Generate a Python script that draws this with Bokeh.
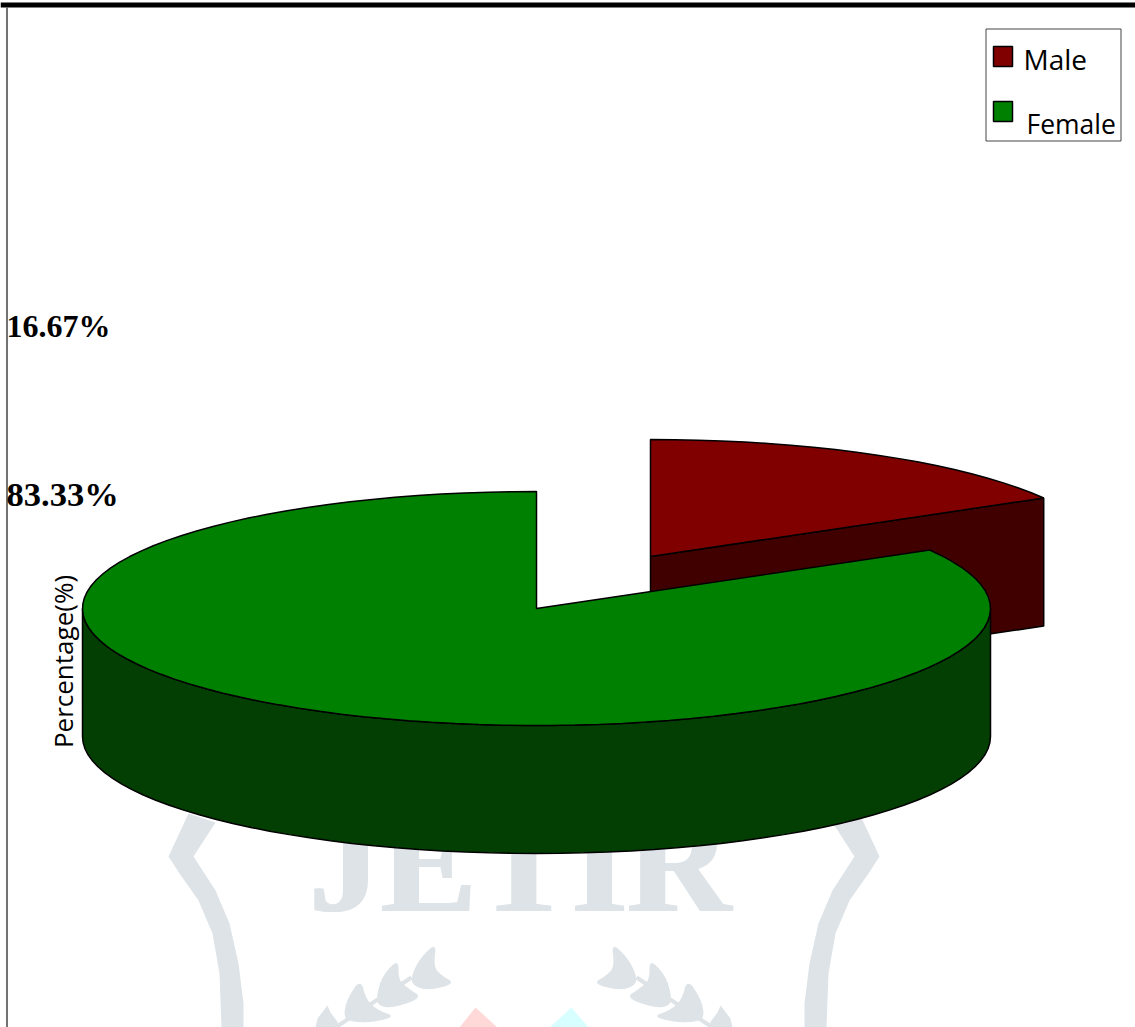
import numpy as np
from bokeh.core.properties import value
from bokeh.embed import file_html
from bokeh.models import Range1d
from bokeh.plotting import figure
from bokeh.resources import INLINE

# Gender split shown by the pie
categories = ["Male", "Female"]
percentages = [16.67, 83.33]
percent_labels = ["16.67%", "83.33%"]
axis_title = "Percentage(%)"
watermark = "JETIR"

TOP_COLORS = {"Male": "#800000", "Female": "#008000"}
SIDE_COLORS = {"Male": "#400000", "Female": "#033f03"}

WIDTH, HEIGHT = 1135, 1027
CX, CY = 536, 608          # centre of the pie's top face
RX, RY = 454, 117          # radii of the tilted disc
DEPTH = 128                # thickness of the disc
EXPLODE = (114, -52)       # offset of the pulled-out Male slice

p = figure(width=WIDTH, height=HEIGHT, output_backend="svg", toolbar_location=None,
           x_range=Range1d(0, WIDTH), y_range=Range1d(HEIGHT, 0),
           min_border=0, background_fill_color="white", border_fill_color="white")
p.axis.visible = False
p.grid.visible = False
p.outline_line_color = None


def arc(start, end, cx=CX, cy=CY, step=3.0):
    """Points along the disc's rim between two angles, in degrees."""
    n = max(2, int(abs(end - start) / step) + 1)
    t = np.radians(np.linspace(start, end, n))
    return cx + RX * np.cos(t), cy - RY * np.sin(t)


def rounded(xs, ys, passes=2):
    """Corner-cutting pass that rounds a closed outline."""
    pts = np.column_stack([xs, ys]).astype(float)
    for _ in range(passes):
        nxt = np.roll(pts, -1, axis=0)
        pts = np.stack([0.75 * pts + 0.25 * nxt, 0.25 * pts + 0.75 * nxt], axis=1).reshape(-1, 2)
    return pts[:, 0], pts[:, 1]


# Background emblem, drawn first so the pie sits over it
EMBLEM = "#dde3e7"
CENTRE = 523.5
band_x = [188, 168, 179, 198, 212, 219, 221, 243, 243, 238, 229, 215, 193, 215]
band_y = [813, 856, 873, 900, 933, 973, 1027, 1027, 1003, 963, 923, 890, 856, 822]
leaves = [
    ([436, 420, 411, 412, 428, 455, 441, 433], [942, 957, 975, 985, 990, 983, 975, 966]),
    ([398, 382, 376, 378, 395, 422, 408, 398], [958, 975, 995, 1006, 1007, 997, 988, 980]),
    ([360, 347, 343, 348, 372, 395, 378, 366], [978, 998, 1014, 1021, 1022, 1016, 1010, 1000]),
]
p.patch(band_x, band_y, fill_color=EMBLEM, line_color=None)
p.patch([2 * CENTRE - x for x in band_x], band_y, fill_color=EMBLEM, line_color=None)
for xs, ys in leaves:
    rx, ry = rounded(xs, ys)
    p.patch(rx, ry, fill_color=EMBLEM, line_color=None)
    p.patch(2 * CENTRE - rx, ry, fill_color=EMBLEM, line_color=None)
tip_x, tip_y = [327, 317, 315, 340, 336, 330], [1005, 1018, 1027, 1027, 1020, 1012]
p.patch(tip_x, tip_y, fill_color=EMBLEM, line_color=None)
p.patch([2 * CENTRE - x for x in tip_x], tip_y, fill_color=EMBLEM, line_color=None)
stem_x, stem_y = [411, 365, 335], [977, 1007, 1027]
p.line(stem_x, stem_y, line_color=EMBLEM, line_width=4)
p.line([2 * CENTRE - x for x in stem_x], stem_y, line_color=EMBLEM, line_width=4)
p.patch([475, 459, 497], [1007, 1027, 1027], fill_color="#ffd8d8", line_color=None)
p.patch([571, 549, 588], [1007, 1027, 1027], fill_color="#d8ffff", line_color=None)
# Two close passes give the watermark its heavy strokes
p.text([518, 521], [862, 862], text=[watermark, watermark], text_font=value("Liberation Serif"),
       text_font_style="bold", text_font_size="143px", text_color=EMBLEM,
       text_align="center", text_baseline="alphabetic")

# Male slice runs clockwise from twelve o'clock, Female takes the remainder
sweeps = [v / 100 * 360 for v in percentages]
male_start, male_end = 90, 90 - sweeps[0]
female_start, female_far = 90, 90 + sweeps[1]

# Male slice: cut face first, then its top
mx, my = CX + EXPLODE[0], CY + EXPLODE[1]
ex, ey = arc(male_end, male_end, mx, my)
p.patch([mx, ex[0], ex[0], mx], [my, ey[0], ey[0] + DEPTH, my + DEPTH],
        fill_color=SIDE_COLORS["Male"], line_color="black", line_width=1.5)
ax, ay = arc(male_start, male_end, mx, my)
p.patch(np.r_[mx, ax], np.r_[my, ay], fill_color=TOP_COLORS["Male"],
        line_color="black", line_width=1.5)

# Female slice: front wall of the disc, then its top
sx, sy = arc(180, 360)
p.patch(np.r_[sx, sx[::-1]], np.r_[sy, sy[::-1] + DEPTH],
        fill_color=SIDE_COLORS["Female"], line_color="black", line_width=1.5)
ax, ay = arc(female_start, female_far)
p.patch(np.r_[CX, ax], np.r_[CY, ay], fill_color=TOP_COLORS["Female"],
        line_color="black", line_width=1.5)

# Chart frame
p.quad(left=[0], right=[WIDTH], top=[2], bottom=[7], fill_color="black", line_color=None)
p.segment([6.5], [7], [6.5], [HEIGHT], line_color="#444444", line_width=1.5)

# Percent labels beside the frame
p.text([6], [325], text=[percent_labels[0]], text_font=value("Liberation Serif"),
       text_font_style="bold", text_font_size="32px", text_color="black",
       text_baseline="alphabetic")
p.text([6], [493], text=[percent_labels[1]], text_font=value("Liberation Serif"),
       text_font_style="bold", text_font_size="34.5px", text_color="black",
       text_baseline="alphabetic")

# Axis title
p.text([62], [661], text=[axis_title], text_font=value("Open Sans"), text_font_size="26px",
       text_color="black", angle=np.pi / 2, text_align="center", text_baseline="alphabetic")

# Legend
p.quad(left=[985.5], right=[1120.5], top=[28.5], bottom=[140.5], fill_color="white",
       line_color="#444444", line_width=1)
legend_y = [46, 101]
legend_tx = [1023, 1026]
legend_ty = [58, 123]
legend_size = ["28px", "26.5px"]
for name, sy0, tx, ty, size in zip(categories, legend_y, legend_tx, legend_ty, legend_size):
    p.quad(left=[993], right=[1012], top=[sy0], bottom=[sy0 + 20],
           fill_color=TOP_COLORS[name], line_color="black", line_width=1.5)
    p.text([tx], [ty], text=[name], text_font=value("Open Sans"), text_font_size=size,
           text_color="black", text_baseline="alphabetic")

open("out.html", "w").write(file_html(p, INLINE))
